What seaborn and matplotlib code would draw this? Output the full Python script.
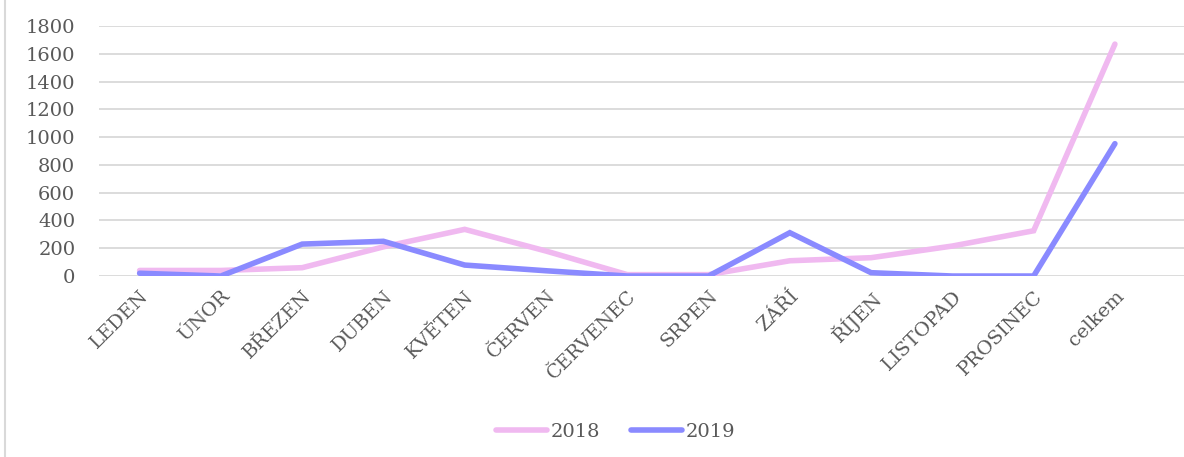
import pandas as pd
import matplotlib.pyplot as plt
import matplotlib.lines as mlines
import seaborn as sns

# data
months = ['LEDEN', 'ÚNOR', 'BŘEZEN', 'DUBEN', 'KVĚTEN', 'ČERVEN', 'ČERVENEC',
          'SRPEN', 'ZÁŘÍ', 'ŘÍJEN', 'LISTOPAD', 'PROSINEC', 'celkem']
vals_2018 = [40, 40, 60, 210, 336, 180, 10, 10, 110, 132, 216, 326, 1670]
vals_2019 = [20, 0, 230, 250, 79, 38, 0, 0, 312, 24, 0, 0, 953]
years = ['2018', '2019']
colors = {'2018': '#F0B9F0', '2019': '#8A8AFF'}

df = pd.DataFrame({
    'month': months * 2,
    'pos': list(range(len(months))) * 2,
    'value': vals_2018 + vals_2019,
    'year': ['2018'] * len(months) + ['2019'] * len(months),
})

sns.set_style('white')
plt.rcParams['font.family'] = ['DejaVu Serif']
text_col = '#595959'

fig = plt.figure(figsize=(11.84, 4.57), dpi=100)
ax = fig.add_axes([0.0836, 0.396, 0.9164, 0.547])

sns.lineplot(data=df, x='pos', y='value', hue='year', palette=colors,
             hue_order=years, sort=False, linewidth=4.0, ax=ax, legend=False,
             solid_capstyle='round', solid_joinstyle='miter')

ax.set_ylim(0, 1800)
ax.set_yticks(range(0, 1801, 200))
ax.set_xlim(-0.5, 12.85)
ax.set_xticks(range(len(months)))
ax.set_xticklabels(months, rotation=45, ha='right', rotation_mode='anchor')
ax.tick_params(axis='both', length=0, labelsize=14, colors=text_col)
ax.tick_params(axis='x', pad=8)
ax.tick_params(axis='y', pad=17)
ax.set_xlabel('')
ax.set_ylabel('')
ax.yaxis.grid(True, color='#D9D9D9', lw=1.3)
ax.set_axisbelow(True)
for s in ax.spines.values():
    s.set_visible(False)

handles = [mlines.Line2D([], [], color=colors[y], lw=4.0, solid_capstyle='round')
           for y in years]
fig.legend(handles, years, loc='center', bbox_to_anchor=(0.52, 0.055), ncol=2,
           frameon=False, fontsize=14, handlelength=2.6, handletextpad=0.2,
           columnspacing=1.6, labelcolor=text_col)

# chart border on the left
fig.add_artist(mlines.Line2D([0.0045, 0.0045], [0, 1], color='#D9D9D9', lw=1.5))

fig.savefig('out.png', dpi=100, facecolor='white')
